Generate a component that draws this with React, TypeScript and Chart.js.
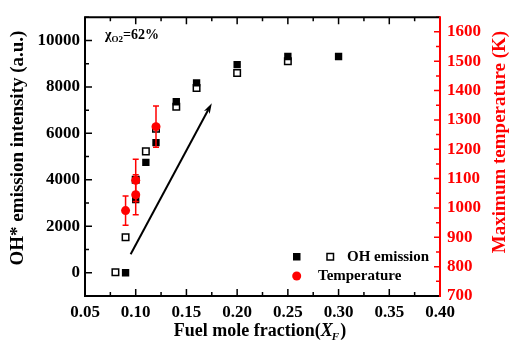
import React, { useEffect, useRef } from 'react';
import { Chart, registerables } from 'chart.js';
Chart.register(...registerables);

// ---- data ----
const ohFilledX = [0.09, 0.10, 0.11, 0.12, 0.14, 0.16, 0.20, 0.25, 0.30];
const ohFilledY = [0, 3150, 4750, 5600, 7360, 8175, 8960, 9310, 9310];
const ohOpenX = [0.08, 0.09, 0.10, 0.11, 0.12, 0.14, 0.16, 0.20, 0.25];
const ohOpenY = [20, 1530, 4000, 5225, 6200, 7150, 7950, 8600, 9100];
const tempX = [0.09, 0.10, 0.10, 0.12];
const tempY = [991, 1045, 1094, 1277];
const tempErr = [50, 68, 72, 70];
const arrowFrom = { x: 0.095, y: 800 };
const arrowTo = { x: 0.175, y: 7300 };
const xRange = [0.05, 0.40];
const yRange = [-1000, 11000];
const y1Range = [700, 1650];
const xLabelTicks = [0.05, 0.10, 0.15, 0.20, 0.25, 0.30, 0.35, 0.40];
const yLabelTicks = [0, 2000, 4000, 6000, 8000, 10000];
const y1LabelTicks = [700, 800, 900, 1000, 1100, 1200, 1300, 1400, 1500, 1600];

const FONT = '"Liberation Serif", "Times New Roman", serif';
const RED = 'rgb(255,0,0)';

const near = (v: number, arr: number[]) => arr.some((a) => Math.abs(a - v) < 1e-6);

const deco = {
  id: 'deco',
  beforeDatasetDraw(chart: any, args: any) {
    if (args.index !== 0) return;
    const ctx = chart.ctx;
    const xs = chart.scales.x;
    const ys = chart.scales.y1;
    ctx.save();
    ctx.strokeStyle = RED;
    ctx.lineWidth = 1.5;
    tempX.forEach((x, i) => {
      const px = xs.getPixelForValue(x);
      const top = ys.getPixelForValue(tempY[i] + tempErr[i]);
      const bot = ys.getPixelForValue(tempY[i] - tempErr[i]);
      ctx.beginPath();
      ctx.moveTo(px, top);
      ctx.lineTo(px, bot);
      ctx.moveTo(px - 3, top);
      ctx.lineTo(px + 3, top);
      ctx.moveTo(px - 3, bot);
      ctx.lineTo(px + 3, bot);
      ctx.stroke();
    });
    ctx.restore();
  },
  afterDatasetsDraw(chart: any) {
    const ctx = chart.ctx;
    const xs = chart.scales.x;
    const ys = chart.scales.y;
    const x0 = xs.getPixelForValue(arrowFrom.x);
    const y0 = ys.getPixelForValue(arrowFrom.y);
    const x1 = xs.getPixelForValue(arrowTo.x);
    const y1 = ys.getPixelForValue(arrowTo.y);
    const ang = Math.atan2(y1 - y0, x1 - x0);
    const hl = 11;
    ctx.save();
    ctx.strokeStyle = '#000';
    ctx.fillStyle = '#000';
    ctx.lineWidth = 2;
    ctx.beginPath();
    ctx.moveTo(x0, y0);
    ctx.lineTo(x1 - Math.cos(ang) * hl * 0.7, y1 - Math.sin(ang) * hl * 0.7);
    ctx.stroke();
    ctx.beginPath();
    ctx.moveTo(x1, y1);
    ctx.lineTo(x1 - hl * Math.cos(ang - 0.3), y1 - hl * Math.sin(ang - 0.3));
    ctx.lineTo(x1 - hl * 0.7 * Math.cos(ang), y1 - hl * 0.7 * Math.sin(ang));
    ctx.lineTo(x1 - hl * Math.cos(ang + 0.3), y1 - hl * Math.sin(ang + 0.3));
    ctx.closePath();
    ctx.fill();
    ctx.restore();
  },
  afterDraw(chart: any) {
    const ctx = chart.ctx;
    const { left, right, top, bottom } = chart.chartArea;
    const xs = chart.scales.x;
    const ys = chart.scales.y;
    const y1s = chart.scales.y1;
    ctx.save();
    // ticks
    ctx.lineWidth = 1.5;
    ctx.strokeStyle = '#000';
    ctx.beginPath();
    for (let v = xRange[0]; v <= xRange[1] + 1e-9; v += 0.025) {
      const px = xs.getPixelForValue(v);
      const len = near(v, xLabelTicks) ? 7 : 4;
      ctx.moveTo(px, bottom);
      ctx.lineTo(px, bottom - len);
      ctx.moveTo(px, top);
      ctx.lineTo(px, top + len);
    }
    for (let v = 0; v <= 11000; v += 1000) {
      const py = ys.getPixelForValue(v);
      const len = near(v, yLabelTicks) ? 7 : 4;
      ctx.moveTo(left, py);
      ctx.lineTo(left + len, py);
    }
    ctx.stroke();
    ctx.strokeStyle = RED;
    ctx.beginPath();
    for (let v = 700; v <= 1650; v += 50) {
      const py = y1s.getPixelForValue(v);
      const len = near(v, y1LabelTicks) ? 6 : 4;
      ctx.moveTo(right, py);
      ctx.lineTo(right - len, py);
    }
    ctx.stroke();
    // frame
    ctx.lineWidth = 2;
    ctx.strokeStyle = '#000';
    ctx.beginPath();
    ctx.moveTo(right, top);
    ctx.lineTo(left, top);
    ctx.lineTo(left, bottom);
    ctx.lineTo(right, bottom);
    ctx.stroke();
    ctx.strokeStyle = RED;
    ctx.beginPath();
    ctx.moveTo(right, top - 1);
    ctx.lineTo(right, bottom + 1);
    ctx.stroke();

    // axis titles
    ctx.fillStyle = '#000';
    ctx.textAlign = 'center';
    ctx.textBaseline = 'middle';
    ctx.font = `bold 19px ${FONT}`;
    ctx.save();
    ctx.translate(18, 148);
    ctx.rotate(-Math.PI / 2);
    ctx.fillText('OH* emission intensity (a.u.)', 0, 0);
    ctx.restore();
    ctx.save();
    ctx.fillStyle = RED;
    ctx.translate(500, 142);
    ctx.rotate(-Math.PI / 2);
    ctx.fillText('Maximum temperature (K)', 0, 0);
    ctx.restore();

    // x title with italic X and subscript F
    ctx.textAlign = 'left';
    ctx.textBaseline = 'alphabetic';
    const p1 = 'Fuel mole fraction(';
    const fMain = `bold 18px ${FONT}`;
    const fIt = `italic bold 18px ${FONT}`;
    const fSub = `italic bold 11px ${FONT}`;
    ctx.font = fMain;
    const w1 = ctx.measureText(p1).width;
    ctx.font = fIt;
    const w2 = ctx.measureText('X').width;
    ctx.font = fSub;
    const w3 = ctx.measureText('F').width;
    ctx.font = fMain;
    const w4 = ctx.measureText(')').width;
    const total = w1 + w2 + w3 + w4;
    let cx = 260 - total / 2;
    const by = 336;
    ctx.font = fMain;
    ctx.fillText(p1, cx, by);
    cx += w1;
    ctx.font = fIt;
    ctx.fillText('X', cx, by);
    cx += w2;
    ctx.font = fSub;
    ctx.fillText('F', cx - 1, by + 4);
    cx += w3;
    ctx.font = fMain;
    ctx.fillText(')', cx, by);

    // annotation
    let ax = 105;
    const ay = 39;
    ctx.font = `bold 14px ${FONT}`;
    ctx.fillText('\u03c7', ax, ay);
    ax += ctx.measureText('\u03c7').width;
    ctx.font = `bold 9px ${FONT}`;
    ctx.fillText('O2', ax, ay + 3);
    ax += ctx.measureText('O2').width;
    ctx.font = `bold 14px ${FONT}`;
    ctx.fillText('=62%', ax, ay);

    // legend
    ctx.font = `bold 15px ${FONT}`;
    ctx.textBaseline = 'middle';
    ctx.fillStyle = '#000';
    ctx.fillRect(293, 253, 7.5, 7.5);
    ctx.lineWidth = 1.5;
    ctx.strokeStyle = '#000';
    ctx.fillStyle = '#fff';
    ctx.fillRect(327, 253.5, 6.5, 6.5);
    ctx.strokeRect(327, 253.5, 6.5, 6.5);
    ctx.fillStyle = '#000';
    ctx.fillText('OH emission', 347, 257.5);
    ctx.fillStyle = RED;
    ctx.beginPath();
    ctx.arc(296.7, 276, 4.5, 0, Math.PI * 2);
    ctx.fill();
    ctx.fillStyle = '#000';
    ctx.fillText('Temperature', 318, 276.5);
    ctx.restore();
  },
};

export default function App() {
  const ref = useRef<HTMLCanvasElement | null>(null);
  useEffect(() => {
    if (!ref.current) return;
    const tickFont = { family: FONT, size: 17, weight: 'bold' as const };
    const chart = new Chart(ref.current, {
      type: 'scatter',
      data: {
        datasets: [
          {
            label: 'Temperature',
            data: tempX.map((x, i) => ({ x, y: tempY[i] })),
            yAxisID: 'y1',
            pointStyle: 'circle',
            pointRadius: 4.5,
            backgroundColor: RED,
            borderColor: RED,
            borderWidth: 0,
            order: 0,
          },
          {
            label: 'OH emission (filled)',
            data: ohFilledX.map((x, i) => ({ x, y: ohFilledY[i] })),
            yAxisID: 'y',
            pointStyle: 'rect',
            pointRadius: 5.2,
            backgroundColor: '#000',
            borderColor: '#000',
            borderWidth: 0,
            order: 1,
          },
          {
            label: 'OH emission (open)',
            data: ohOpenX.map((x, i) => ({ x, y: ohOpenY[i] })),
            yAxisID: 'y',
            pointStyle: 'rect',
            pointRadius: 4.6,
            backgroundColor: '#fff',
            borderColor: '#000',
            borderWidth: 1.5,
            order: 2,
          },
        ],
      },
      options: {
        animation: false,
        responsive: false,
        layout: { padding: { top: 10, left: 0, right: 0, bottom: 0 } },
        plugins: { legend: { display: false }, tooltip: { enabled: false } },
        scales: {
          x: {
            type: 'linear',
            position: 'bottom',
            min: xRange[0],
            max: xRange[1],
            grid: { display: false, drawTicks: false },
            border: { display: false },
            ticks: {
              stepSize: 0.05,
              padding: 6,
              color: '#000',
              font: tickFont,
              maxRotation: 0,
              autoSkip: false,
              callback: (v: any) => (near(Number(v), xLabelTicks) ? Number(v).toFixed(2) : ''),
            },
            afterFit: (s: any) => {
              s.height = 49;
            },
          },
          y: {
            type: 'linear',
            position: 'left',
            min: yRange[0],
            max: yRange[1],
            grid: { display: false, drawTicks: false },
            border: { display: false },
            ticks: {
              stepSize: 1000,
              padding: 5,
              color: '#000',
              font: tickFont,
              autoSkip: false,
              callback: (v: any) => (near(Number(v), yLabelTicks) ? String(v) : ''),
            },
            afterFit: (s: any) => {
              s.width = 85;
            },
          },
          y1: {
            type: 'linear',
            position: 'right',
            min: y1Range[0],
            max: y1Range[1],
            grid: { display: false, drawTicks: false },
            border: { display: false },
            ticks: {
              stepSize: 50,
              padding: 7,
              color: RED,
              font: tickFont,
              autoSkip: false,
              callback: (v: any) => (near(Number(v), y1LabelTicks) ? String(v) : ''),
            },
            afterFit: (s: any) => {
              s.width = 69;
            },
          },
        },
      },
      plugins: [deco],
    });
    return () => chart.destroy();
  }, []);
  return (
    <div style={{ position: 'absolute', left: 0, top: 0, width: 509, height: 345, background: '#fff' }}>
      <canvas ref={ref} width={509} height={345} style={{ display: 'block' }} />
    </div>
  );
}
